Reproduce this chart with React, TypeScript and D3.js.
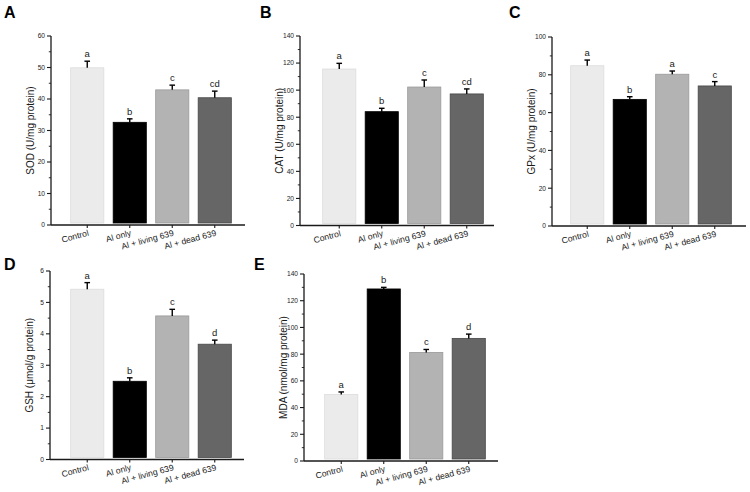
import React from "react";
import * as d3 from "d3";

const categories = ["Control", "Al only", "Al + living 639", "Al + dead 639"];

const sodMean = [49.9, 32.6, 42.9, 40.4];
const sodErr = [2.1, 1.1, 1.5, 2.1];
const sodLetters = ["a", "b", "c", "cd"];

const catMean = [115.6, 84.1, 102.3, 97.2];
const catErr = [4.2, 2.5, 5.2, 3.7];
const catLetters = ["a", "b", "c", "cd"];

const gpxMean = [84.8, 67.0, 80.3, 74.1];
const gpxErr = [3.0, 1.4, 1.7, 2.3];
const gpxLetters = ["a", "b", "a", "c"];

const gshMean = [5.42, 2.49, 4.57, 3.67];
const gshErr = [0.21, 0.11, 0.21, 0.13];
const gshLetters = ["a", "b", "c", "d"];

const mdaMean = [49.8, 128.8, 81.3, 91.8];
const mdaErr = [1.9, 1.2, 2.2, 3.2];
const mdaLetters = ["a", "b", "c", "d"];

const fills = ["#ebebeb", "#000000", "#b3b3b3", "#666666"];
const strokes = ["#dcdcdc", "#000000", "#9a9a9a", "#474747"];

type PanelSpec = {
  letter: string;
  title: string;
  mean: number[];
  err: number[];
  sig: string[];
  max: number;
  step: number;
  axisX: number;
  top: number;
  bottom: number;
  barOff: number;
  lx: number;
  ly: number;
};

const panels: PanelSpec[] = [
  { letter: "A", title: "SOD (U/mg protein)", mean: sodMean, err: sodErr, sig: sodLetters, max: 60, step: 10, axisX: 51, top: 36, bottom: 225, barOff: 15, lx: 4, ly: 18 },
  { letter: "B", title: "CAT (U/mg protein)", mean: catMean, err: catErr, sig: catLetters, max: 140, step: 20, axisX: 300, top: 36, bottom: 225.5, barOff: 18, lx: 260, ly: 18 },
  { letter: "C", title: "GPx (U/mg protein)", mean: gpxMean, err: gpxErr, sig: gpxLetters, max: 100, step: 20, axisX: 552, top: 37, bottom: 226, barOff: 14, lx: 509, ly: 18 },
  { letter: "D", title: "GSH (μmol/g protein)", mean: gshMean, err: gshErr, sig: gshLetters, max: 6, step: 1, axisX: 50, top: 271, bottom: 459.5, barOff: 16, lx: 4, ly: 270 },
  { letter: "E", title: "MDA (nmol/mg protein)", mean: mdaMean, err: mdaErr, sig: mdaLetters, max: 140, step: 20, axisX: 304, top: 274, bottom: 461, barOff: 16, lx: 254, ly: 270 },
];

const FONT = "Liberation Sans, Arial, sans-serif";
const INK = "#1a1a1a";

function Panel({ p }: { p: PanelSpec }) {
  const y = d3.scaleLinear().domain([0, p.max]).range([p.bottom, p.top]);
  const x = d3
    .scaleBand<string>()
    .domain(categories)
    .range([p.axisX + p.barOff, p.axisX + p.barOff + 170])
    .paddingInner(0.22)
    .paddingOuter(0.11);
  const majors = d3.range(0, p.max + p.step / 2, p.step);
  const minors = d3.range(p.step / 2, p.max, p.step);
  const xEnd = p.axisX + 194;
  const fmt = (v: number) => d3.format("d")(v);
  const bw = x.bandwidth();
  return (
    <g>
      <text x={p.lx} y={p.ly} fontFamily={FONT} fontWeight="bold" fontSize={16} fill="#000">
        {p.letter}
      </text>
      {categories.map((c, i) => {
        const x0 = x(c)!;
        const yt = y(p.mean[i]);
        const ye = y(p.mean[i] + p.err[i]);
        const cx = x0 + bw / 2;
        return (
          <g key={c}>
            <rect x={x0} y={yt} width={bw} height={p.bottom - 2 - yt} fill={fills[i]} stroke={strokes[i]} strokeWidth={0.8} />
            <line x1={cx} x2={cx} y1={yt} y2={ye} stroke="#000" strokeWidth={1.4} />
            <line x1={cx - 2.8} x2={cx + 2.8} y1={ye} y2={ye} stroke="#000" strokeWidth={1.4} />
            <text x={cx} y={ye - 4} textAnchor="middle" fontFamily={FONT} fontSize={9.5} fill={INK}>
              {p.sig[i]}
            </text>
          </g>
        );
      })}
      <line x1={p.axisX} x2={p.axisX} y1={p.top} y2={p.bottom} stroke={INK} strokeWidth={1.3} />
      {majors.map((v) => (
        <g key={"M" + v}>
          <line x1={p.axisX - 4} x2={p.axisX} y1={y(v)} y2={y(v)} stroke={INK} strokeWidth={1.1} />
          <text x={p.axisX - 6} y={y(v) + 2.4} textAnchor="end" fontFamily={FONT} fontSize={6.6} fill={INK}>
            {fmt(v)}
          </text>
        </g>
      ))}
      {minors.map((v) => (
        <line key={"m" + v} x1={p.axisX - 2.2} x2={p.axisX} y1={y(v)} y2={y(v)} stroke={INK} strokeWidth={0.9} />
      ))}
      <text
        transform={`translate(${p.axisX - 17.5},${(p.top + p.bottom) / 2}) rotate(-90)`}
        textAnchor="middle"
        fontFamily={FONT}
        fontSize={10}
        fill={INK}
      >
        {p.title}
      </text>
      <line x1={p.axisX} x2={xEnd} y1={p.bottom} y2={p.bottom} stroke={INK} strokeWidth={1.3} />
      {categories.map((c) => {
        const cx = x(c)! + bw / 2;
        return (
          <g key={"t" + c}>
            <line x1={cx} x2={cx} y1={p.bottom} y2={p.bottom + 3} stroke={INK} strokeWidth={1.1} />
            <text
              transform={`translate(${cx + 2},${p.bottom + 10.5}) rotate(-15)`}
              textAnchor="end"
              fontFamily={FONT}
              fontSize={8.6}
              fill={INK}
            >
              {c}
            </text>
          </g>
        );
      })}
    </g>
  );
}

export default function App() {
  return (
    <svg width={750} height={492} viewBox="0 0 750 492" style={{ position: "absolute", left: 0, top: 0, background: "#fff" }}>
      <rect width={750} height={492} fill="#fff" />
      {panels.map((p) => (
        <Panel key={p.letter} p={p} />
      ))}
    </svg>
  );
}
